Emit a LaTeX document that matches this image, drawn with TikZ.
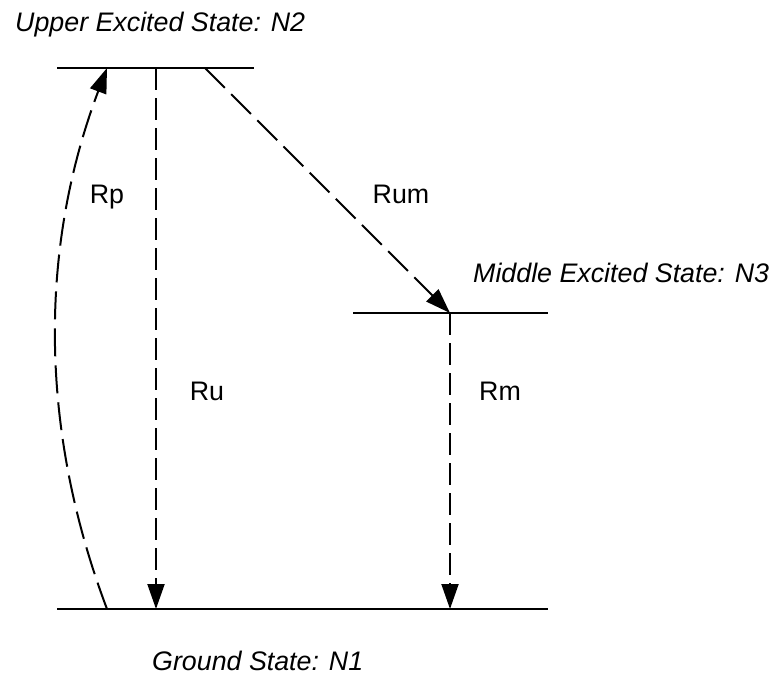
\documentclass[tikz,border=0pt]{standalone}
\usepackage{fontspec}
\setmainfont{Liberation Sans}
\usetikzlibrary{arrows.meta}
\begin{document}
\begin{tikzpicture}[x=1pt,y=-1pt,
  level/.style={line width=2pt},
  conn/.style={line width=2pt},
  lbl/.style={font=\fontsize{26.8}{32}\selectfont\itshape, inner sep=0pt},
  rate/.style={font=\fontsize{26.8}{32}\selectfont, inner sep=0pt},
  tip/.style={-{Triangle[length=25pt,width=17pt]}},
  longdash/.style={dash pattern=on 28pt off 9pt},
  shortdash/.style={dash pattern=on 22pt off 8pt}
]
\useasboundingbox (0,0) rectangle (776,677);
% levels
\coordinate (u1) at (57,68);  \coordinate (u2) at (254,68);
\coordinate (m1) at (353,313); \coordinate (m2) at (548,313);
\coordinate (g1) at (57,609); \coordinate (g2) at (548,609);
\draw[level] (u1) -- (u2);
\draw[level] (m1) -- (m2);
\draw[level] (g1) -- (g2);
% connector ends
\coordinate (rpb) at (107,609); \coordinate (rpt) at (107,68);
\coordinate (rut) at (156,68);  \coordinate (rub) at (156,609);
\coordinate (rumt) at (205,68); \coordinate (rumb) at (450,313);
\coordinate (rmt) at (450,313); \coordinate (rmb) at (450,609);
\draw[conn,longdash,tip] (rpb) .. controls (39,429) and (39,248) .. (rpt);
\draw[conn,shortdash,tip] (rut) -- (rub);
\draw[conn,longdash,tip] (rumt) -- (rumb);
\draw[conn,shortdash,tip] (rmt) -- (rmb);
% labels
\node[lbl, anchor=base west] (tN2) at (15,32) {Upper Excited State: N2};
\node[lbl, anchor=base west] (tN3) at (473,282) {Middle Excited State: N3};
\node[lbl, anchor=base west] (tN1) at (152,670) {Ground State: N1};
\node[rate, anchor=base] (lRp) at (107,203) {Rp};
\node[rate, anchor=base] (lRu) at (207,400) {Ru};
\node[rate, anchor=base] (lRm) at (500,400) {Rm};
\node[rate, anchor=base] (lRum) at (401,203) {Rum};
\end{tikzpicture}
\end{document}
